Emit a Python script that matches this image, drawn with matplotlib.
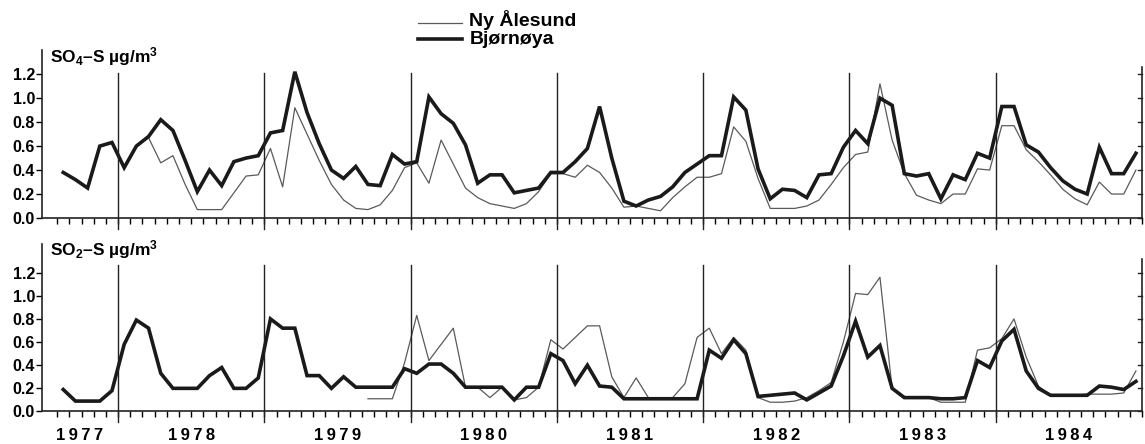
import numpy as np
import matplotlib
matplotlib.use("Agg")
import matplotlib.pyplot as plt
from matplotlib.lines import Line2D

plt.rcParams['font.family'] = ['Liberation Sans', 'DejaVu Sans']
plt.rcParams['font.weight'] = 'bold'
plt.rcParams['mathtext.fontset'] = 'custom'
plt.rcParams['mathtext.rm'] = 'Liberation Sans:bold'
plt.rcParams['mathtext.default'] = 'rm'

# monthly values, Aug 1977 .. Dec 1984 (nan = no data)
nan = np.nan
first_year, first_month = 1977, 8
years = [1977, 1978, 1979, 1980, 1981, 1982, 1983, 1984]

# SO4-S, Bjørnøya
so4_bjornoya = [
    0.38, 0.32, 0.25, 0.60, 0.63,
    0.42, 0.60, 0.68, 0.82, 0.73, 0.48, 0.22, 0.40, 0.27, 0.47, 0.50, 0.52,
    0.71, 0.73, 1.22, 0.88, 0.62, 0.40, 0.33, 0.43, 0.28, 0.27, 0.53, 0.45,
    0.47, 1.01, 0.87, 0.79, 0.61, 0.29, 0.36, 0.36, 0.21, 0.23, 0.25, 0.38,
    0.38, 0.47, 0.58, 0.93, 0.50, 0.14, 0.10, 0.15, 0.18, 0.26, 0.38, 0.45,
    0.52, 0.52, 1.01, 0.90, 0.41, 0.16, 0.24, 0.23, 0.17, 0.36, 0.37, 0.59,
    0.73, 0.62, 1.00, 0.94, 0.37, 0.35, 0.37, 0.16, 0.36, 0.32, 0.54, 0.50,
    0.93, 0.93, 0.61, 0.55, 0.42, 0.31, 0.24, 0.20, 0.59, 0.37, 0.37, 0.54,
]
# SO4-S, Ny Ålesund
so4_nyalesund = [
    nan, nan, nan, nan, nan,
    nan, nan, 0.67, 0.46, 0.52, 0.28, 0.07, 0.07, 0.07, 0.21, 0.35, 0.36,
    0.58, 0.26, 0.92, 0.70, 0.48, 0.28, 0.15, 0.08, 0.07, 0.11, 0.23, 0.42,
    0.46, 0.29, 0.65, 0.45, 0.25, 0.17, 0.12, 0.10, 0.08, 0.12, 0.22, 0.37,
    0.37, 0.34, 0.44, 0.38, 0.25, 0.09, 0.10, 0.08, 0.06, 0.17, 0.26, 0.34,
    0.34, 0.37, 0.76, 0.64, 0.33, 0.08, 0.08, 0.08, 0.10, 0.15, 0.28, 0.42,
    0.53, 0.55, 1.12, 0.65, 0.37, 0.19, 0.15, 0.12, 0.20, 0.20, 0.41, 0.40,
    0.77, 0.77, 0.57, 0.47, 0.36, 0.24, 0.16, 0.11, 0.30, 0.20, 0.20, 0.40,
]
# SO2-S, Bjørnøya
so2_bjornoya = [
    0.19, 0.09, 0.09, 0.09, 0.18,
    0.58, 0.79, 0.72, 0.33, 0.20, 0.20, 0.20, 0.31, 0.38, 0.20, 0.20, 0.29,
    0.80, 0.72, 0.72, 0.31, 0.31, 0.20, 0.30, 0.21, 0.21, 0.21, 0.21, 0.37,
    0.33, 0.41, 0.41, 0.33, 0.21, 0.21, 0.21, 0.21, 0.10, 0.21, 0.21, 0.50,
    0.44, 0.24, 0.40, 0.22, 0.21, 0.11, 0.11, 0.11, 0.11, 0.11, 0.11, 0.11,
    0.53, 0.46, 0.62, 0.50, 0.13, 0.14, 0.15, 0.16, 0.10, 0.16, 0.22, 0.48,
    0.78, 0.47, 0.57, 0.20, 0.12, 0.12, 0.12, 0.11, 0.11, 0.12, 0.44, 0.38,
    0.61, 0.71, 0.35, 0.20, 0.14, 0.14, 0.14, 0.14, 0.22, 0.21, 0.19, 0.26,
]
# SO2-S, Ny Ålesund
so2_nyalesund = [
    nan, nan, nan, nan, nan,
    nan, nan, nan, nan, nan, nan, nan, nan, nan, nan, nan, nan,
    nan, nan, nan, nan, nan, nan, nan, nan, 0.11, 0.11, 0.11, 0.42,
    0.83, 0.44, 0.58, 0.72, 0.21, 0.21, 0.12, 0.21, 0.10, 0.12, 0.21, 0.62,
    0.54, 0.64, 0.74, 0.74, 0.30, 0.12, 0.29, 0.12, 0.12, 0.12, 0.24, 0.64,
    0.72, 0.50, 0.64, 0.53, 0.12, 0.08, 0.08, 0.09, 0.12, 0.18, 0.25, 0.60,
    1.02, 1.01, 1.16, 0.20, 0.13, 0.12, 0.12, 0.08, 0.08, 0.08, 0.53, 0.55,
    0.63, 0.80, 0.47, 0.22, 0.14, 0.14, 0.14, 0.15, 0.15, 0.15, 0.16, 0.35,
]

ytick_vals = [0.0, 0.2, 0.4, 0.6, 0.8, 1.0, 1.2]
panel_labels = [r'SO$_4$–S µg/m$^3$', r'SO$_2$–S µg/m$^3$']

# month midpoints as decimal years
n = len(so4_bjornoya)
x = first_year + (first_month - 1 + np.arange(n) + 0.5) / 12.0
x_left, x_right = 1977.48, 1985.0

thin_kw = dict(color='#5a5a5a', lw=0.9)
thick_kw = dict(color='#1a1a1a', lw=2.6, solid_joinstyle='miter')

fig = plt.figure(figsize=(11.45, 4.44), dpi=100)
ax_top = fig.add_axes([0.0367, 0.509, 0.9607, 0.378])
ax_bot = fig.add_axes([0.0367, 0.0732, 0.9607, 0.378])

panels = [
    (ax_top, so4_nyalesund, so4_bjornoya, 1.40, 1.21, panel_labels[0]),
    (ax_bot, so2_nyalesund, so2_bjornoya, 1.45, 1.27, panel_labels[1]),
]

month_ticks = np.arange(1977 + 7 / 12, 1985.001, 1 / 12)

for ax, ny, bj, ytop, vtop, label in panels:
    ax.plot(x, ny, **thin_kw)
    ax.plot(x, bj, **thick_kw)
    ax.set_xlim(x_left, x_right)
    ax.set_ylim(0, ytop)
    # year separators
    for yr in years[1:]:
        ax.plot([yr, yr], [-0.09, vtop], color='#222', lw=1.0, clip_on=False)
    ax.spines['top'].set_visible(False)
    ax.spines['right'].set_bounds(0, vtop + 0.05)
    for s in ax.spines.values():
        s.set_linewidth(1.2)
        s.set_color('#222')
    ax.set_yticks(ytick_vals)
    ax.set_yticklabels([f'{v:.1f}' for v in ytick_vals], fontsize=11.5, fontweight='bold')
    ax.tick_params(axis='y', direction='out', length=4, width=1.0, pad=1, left=True, right=False)
    ax.set_xticks(month_ticks)
    ax.set_xticklabels([])
    ax.tick_params(axis='x', direction='out', length=4, width=1.0)
    # inward ticks on the right edge
    for v in ytick_vals:
        ax.plot([x_right - 0.025, x_right], [v, v], color='#222', lw=1.0, clip_on=False)
    ax.text(0.007, (ytop - 0.05) / ytop, label, transform=ax.transAxes,
            fontsize=12.5, fontweight='bold', va='center', ha='left')

# year labels under the lower panel
centers = [(x_left + 1978) / 2] + [yr + 0.5 for yr in years[1:]]
for cx, yr in zip(centers, years):
    ax_bot.text(cx, -0.21, '\u2009'.join(str(yr)), ha='center', va='center', fontsize=12,
                fontweight='bold', clip_on=False)

# legend drawn at the top centre
fig.add_artist(Line2D([0.365, 0.4035], [0.948, 0.948], transform=fig.transFigure, **thin_kw))
fig.add_artist(Line2D([0.365, 0.4035], [0.912, 0.912], transform=fig.transFigure, **thick_kw))
fig.text(0.410, 0.955, 'Ny Ålesund', fontsize=14, fontweight='bold', va='center', ha='left')
fig.text(0.410, 0.910, 'Bjørnøya', fontsize=14, fontweight='bold', va='center', ha='left')

fig.savefig('out.png', dpi=100, facecolor='white')
